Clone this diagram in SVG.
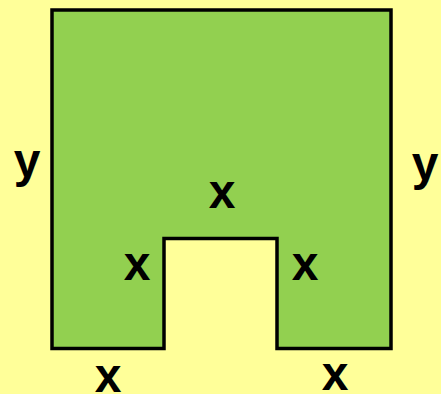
<svg xmlns="http://www.w3.org/2000/svg" width="441" height="394" viewBox="0 0 441 394">
<style>
.lbl{font-family:"Liberation Sans",Arial,sans-serif;font-weight:bold;font-size:48px;fill:#000;text-anchor:middle}
</style>
<rect width="441" height="394" fill="#FFFF99"/>
<g id="shape">
<path d="M52,10 H391 V348.5 H277 V238.5 H164 V348.5 H52 Z" fill="#92D050" stroke="#000" stroke-width="3.5" stroke-linejoin="miter"/>
</g>
<g id="labels">
<text class="lbl" x="27" y="177">y</text>
<text class="lbl" x="425" y="180">y</text>
<text class="lbl" x="222" y="208">x</text>
<text class="lbl" x="137" y="280">x</text>
<text class="lbl" x="305" y="280">x</text>
<text class="lbl" x="108" y="392">x</text>
<text class="lbl" x="335" y="390">x</text>
</g>
</svg>
